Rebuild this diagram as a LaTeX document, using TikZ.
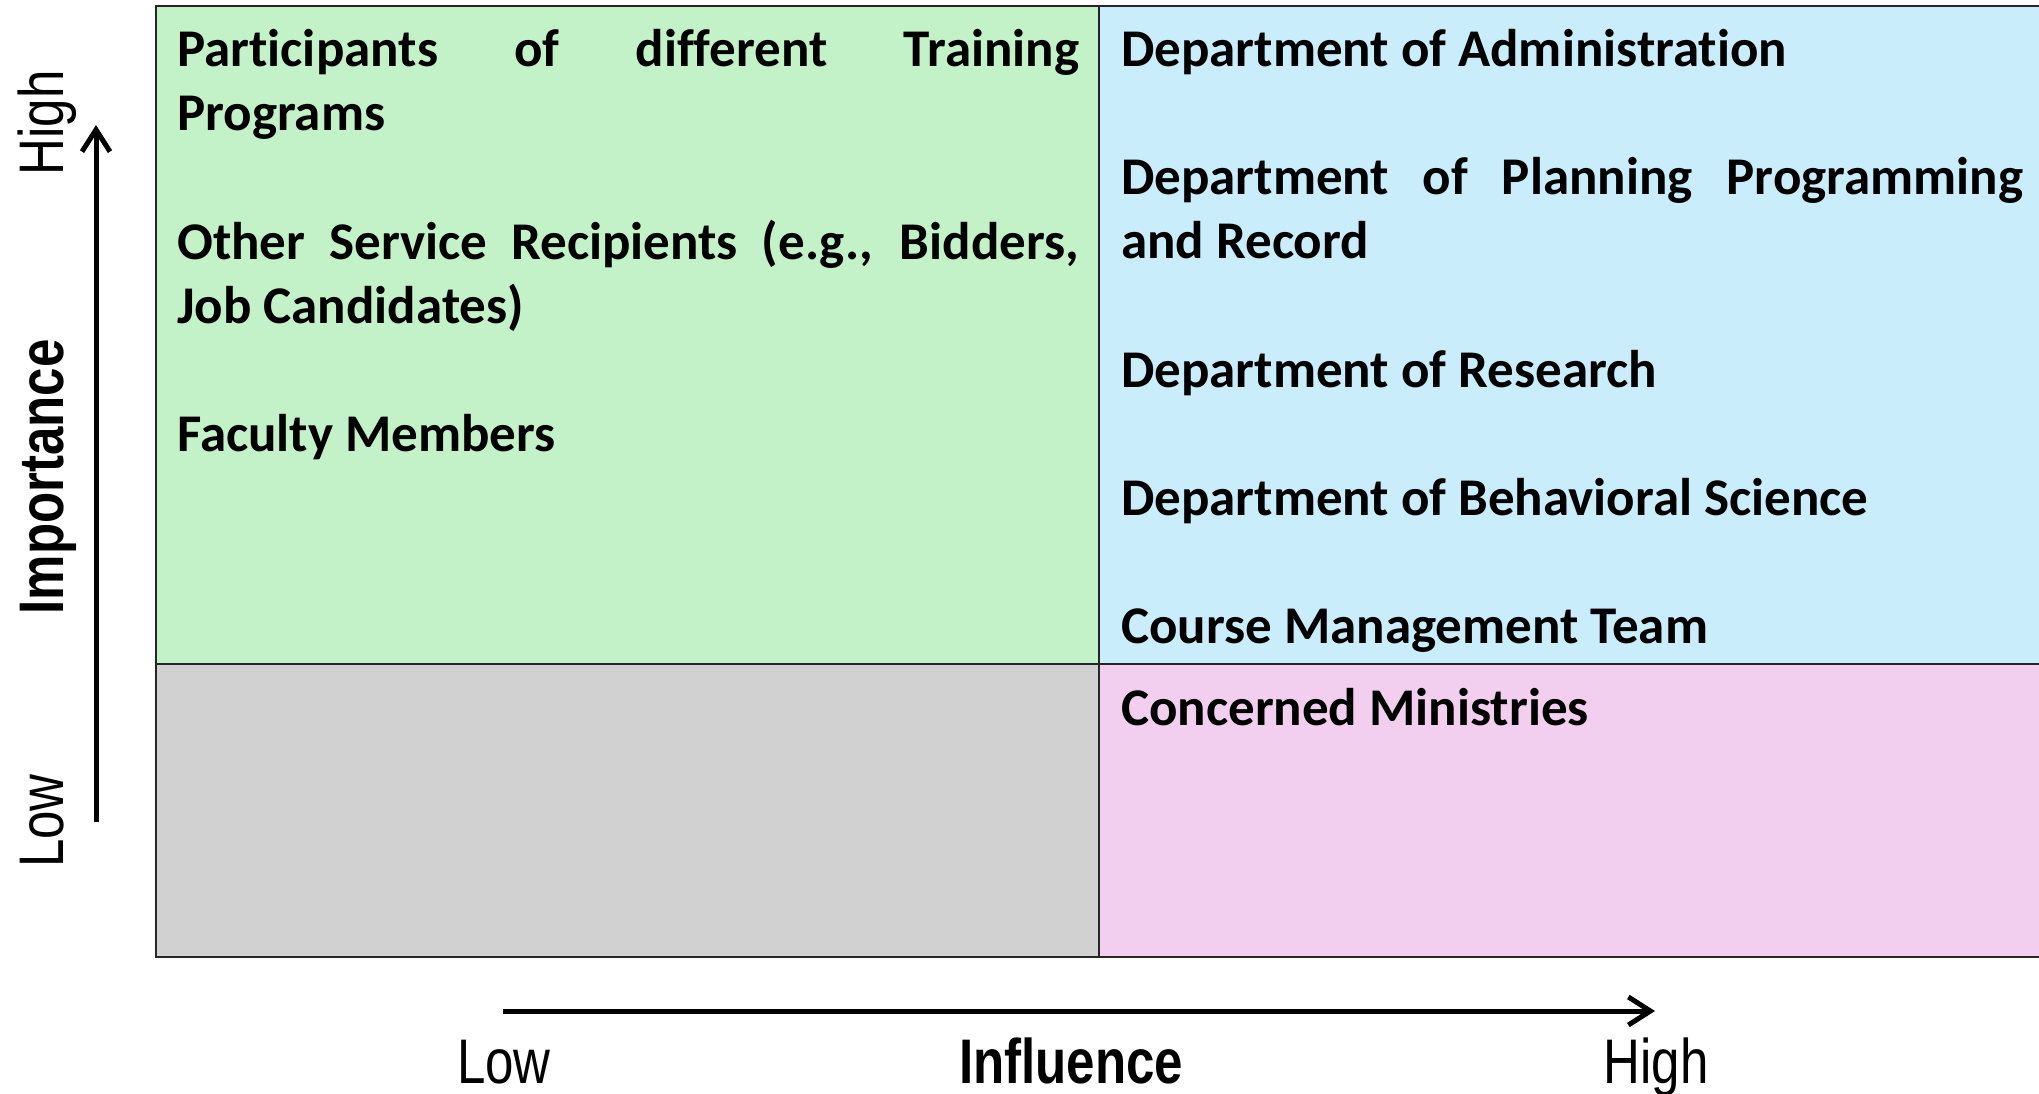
\documentclass[tikz,border=0pt]{standalone}
\usepackage{fontspec}
\setmainfont{Carlito}[Ligatures=NoCommon]
\newfontfamily\axisfont{Liberation Sans}
\usetikzlibrary{arrows.meta}
\hyphenpenalty=10000
\exhyphenpenalty=10000
\tolerance=9999
\definecolor{qgreen}{RGB}{195,241,200}
\definecolor{qblue}{RGB}{202,237,251}
\definecolor{qgray}{RGB}{209,209,209}
\definecolor{qpink}{RGB}{242,206,239}
\tikzset{
  cell/.style={draw=black!85, line width=2.5pt},
  item/.style={anchor=base west, inner sep=0pt, text width=902pt, align=justify,
    font=\fontsize{53}{64}\selectfont\bfseries},
  axislbl/.style={inner sep=0pt, anchor=base, font=\fontsize{63}{70}\selectfont\axisfont, xscale=0.81},
  axisbold/.style={axislbl, font=\fontsize{63}{70}\selectfont\axisfont\bfseries},
  axisarrow/.style={line width=5pt, -{Straight Barb[length=22pt,width=28pt,line width=5pt]}}
}
\begin{document}
\begin{tikzpicture}[x=1pt,y=-1pt]
\useasboundingbox (0,0) rectangle (2039,1094);
% quadrants
\path[cell, fill=qgreen] (156,6) rectangle (1099,664);
\path[cell, fill=qblue] (1099,6) rectangle (2060,664);
\path[cell, fill=qgray] (156,664) rectangle (1099,957);
\path[cell, fill=qpink] (1099,664) rectangle (2060,957);
% left column
\node[item] (p1) at (177,67) {Participants of different Training Programs};
\node[item] (p2) at (177,259) {Other Service Recipients (e.g., Bidders, Job Candidates)};
\node[item] (p3) at (177,451) {Faculty Members};
% right column
\node[item] (r1) at (1121,67) {Department of Administration};
\node[item] (r2) at (1121,195) {Department of Planning Programming and Record};
\node[item] (r3) at (1121,387) {Department of Research};
\node[item] (r4) at (1121,515) {Department of Behavioral Science};
\node[item] (r5) at (1121,643) {Course Management Team};
\node[item] (m1) at (1121,725) {Concerned Ministries};
% axes
\coordinate (vlow) at (96,822);
\coordinate (vhigh) at (96,125);
\coordinate (hlow) at (503,1011);
\coordinate (hhigh) at (1655,1011);
\draw[axisarrow] (vlow) -- (vhigh);
\draw[axisarrow] (hlow) -- (hhigh);
% axis labels
\node[rotate=90, axislbl] (yhigh) at (63,123) {High};
\node[rotate=90, axisbold] (ytitle) at (63,477) {Importance};
\node[rotate=90, axislbl] (ylow) at (63,821) {Low};
\node[axislbl] (xlow) at (504,1083) {Low};
\node[axisbold] (xtitle) at (1071,1083) {Influence};
\node[axislbl] (xhigh) at (1656,1083) {High};
\end{tikzpicture}
\end{document}
